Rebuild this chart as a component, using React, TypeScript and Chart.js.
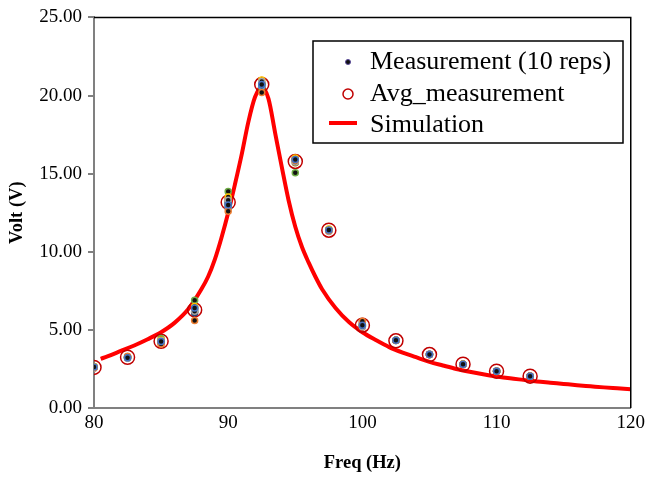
import React, { useEffect, useRef } from "react";
import { Chart, registerables } from "chart.js";

Chart.register(...registerables);

const measureFreqs = [80, 82.5, 85, 87.5, 90, 92.5, 95, 97.5, 100, 102.5, 105, 107.5, 110, 112.5];

// 10 repetitions (one array per rep, values at measureFreqs)
const rep1 = [2.62, 3.22, 4.25, 6.4, 13.0, 20.7, 15.9, 11.4, 5.3, 4.33, 3.43, 2.8, 2.35, 2.04];
const rep2 = [2.58, 3.3, 4.1, 5.6, 12.6, 20.2, 15.85, 11.35, 5.55, 4.32, 3.42, 2.8, 2.36, 2.05];
const rep3 = [2.55, 3.18, 4.3, 6.2, 13.3, 20.9, 15.75, 11.3, 5.2, 4.34, 3.44, 2.79, 2.35, 2.04];
const rep4 = [2.65, 3.26, 4.35, 6.5, 13.5, 21.0, 16.0, 11.45, 5.35, 4.33, 3.43, 2.81, 2.34, 2.03];
const rep5 = [2.6, 3.28, 4.2, 6.3, 12.8, 20.6, 15.8, 11.4, 5.25, 4.32, 3.43, 2.8, 2.35, 2.04];
const rep6 = [2.63, 3.2, 4.45, 6.9, 13.85, 20.75, 15.05, 11.35, 5.3, 4.33, 3.42, 2.8, 2.36, 2.04];
const rep7 = [2.57, 3.24, 4.22, 6.1, 13.1, 20.65, 15.9, 11.42, 5.5, 4.34, 3.44, 2.8, 2.35, 2.05];
const rep8 = [2.61, 3.25, 4.28, 6.35, 13.4, 20.8, 15.95, 11.38, 5.2, 4.33, 3.43, 2.79, 2.35, 2.04];
const rep9 = [2.66, 3.3, 4.3, 6.45, 13.2, 20.7, 15.85, 11.4, 5.35, 4.32, 3.43, 2.8, 2.34, 2.03];
const rep10 = [2.6, 3.22, 4.15, 6.2, 12.95, 20.5, 15.7, 11.36, 5.3, 4.33, 3.42, 2.8, 2.35, 2.04];
const reps = [rep1, rep2, rep3, rep4, rep5, rep6, rep7, rep8, rep9, rep10];
const repColors = ["#4472C4", "#ED7D31", "#A5A5A5", "#FFC000", "#5B9BD5", "#70AD47", "#264478", "#9E480E", "#636363", "#997300"];

const avgValues = [2.6, 3.25, 4.27, 6.28, 13.17, 20.7, 15.78, 11.38, 5.3, 4.3, 3.42, 2.8, 2.36, 2.04];

const simFreqs = [80.5, 81, 82, 83, 84, 85, 86, 87, 88, 88.5, 89, 89.5, 90, 90.5, 91, 91.5, 92, 92.5, 93, 93.5, 94, 94.5, 95, 95.5, 96, 96.5, 97, 98, 99, 100, 101, 102, 103, 104, 105, 106, 107, 108, 109, 110, 111, 112, 113, 114, 115, 116, 117, 118, 119, 120];
const simValues = [3.15, 3.3, 3.65, 4.0, 4.4, 4.85, 5.45, 6.3, 7.6, 8.4, 9.5, 10.9, 12.5, 14.3, 16.2, 18.3, 19.9, 20.55, 19.8, 17.6, 15.4, 13.3, 11.6, 10.3, 9.3, 8.4, 7.6, 6.4, 5.5, 4.85, 4.35, 3.9, 3.55, 3.25, 2.95, 2.72, 2.5, 2.32, 2.16, 2.02, 1.9, 1.8, 1.7, 1.62, 1.54, 1.46, 1.39, 1.32, 1.26, 1.2];

const legendLabels = ["Measurement (10 reps)", "Avg_measurement", "Simulation"];
const xTitle = "Freq (Hz)";
const yTitle = "Volt (V)";

const SERIF = "'Liberation Serif', 'Times New Roman', serif";

export default function App() {
  const ref = useRef<HTMLCanvasElement>(null);
  useEffect(() => {
    if (!ref.current) return;
    const measData: { x: number; y: number }[] = [];
    const measBorder: string[] = [];
    // draw the last rep first so the first (blue) rep ends on top
    for (let ri = reps.length - 1; ri >= 0; ri--) {
      reps[ri].forEach((v, i) => {
        measData.push({ x: measureFreqs[i], y: v });
        measBorder.push(repColors[ri]);
      });
    }
    const frame = {
      id: "frame",
      afterDatasetsDraw(chart: any) {
        const { ctx, chartArea: a } = chart;
        ctx.save();
        ctx.strokeStyle = "#000";
        ctx.lineWidth = 1.5;
        ctx.beginPath();
        ctx.moveTo(a.left, a.top);
        ctx.lineTo(a.right, a.top);
        ctx.lineTo(a.right, a.bottom);
        ctx.stroke();
        // legend
        const bx = 313, by = 41, bw = 310, bh = 102;
        ctx.fillStyle = "#fff";
        ctx.fillRect(bx, by, bw, bh);
        ctx.lineWidth = 1.5;
        ctx.strokeRect(bx, by, bw, bh);
        ctx.font = `26px ${SERIF}`;
        ctx.fillStyle = "#000";
        ctx.textBaseline = "middle";
        ctx.textAlign = "left";
        const rows = [62, 94, 125];
        ctx.fillText(legendLabels[0], 370, rows[0]);
        ctx.fillText(legendLabels[1], 370, rows[1]);
        ctx.fillText(legendLabels[2], 370, rows[2]);
        ctx.beginPath();
        ctx.arc(348, rows[0], 2.5, 0, Math.PI * 2);
        ctx.fillStyle = "#111";
        ctx.fill();
        ctx.strokeStyle = "#5a4a9a";
        ctx.lineWidth = 1;
        ctx.stroke();
        ctx.beginPath();
        ctx.arc(348, rows[1], 5, 0, Math.PI * 2);
        ctx.strokeStyle = "#C00000";
        ctx.lineWidth = 1.5;
        ctx.stroke();
        ctx.beginPath();
        ctx.moveTo(329, rows[2] - 2);
        ctx.lineTo(357, rows[2] - 2);
        ctx.strokeStyle = "#FF0000";
        ctx.lineWidth = 4;
        ctx.stroke();
        ctx.restore();
      },
    };
    const chart = new Chart(ref.current, {
      type: "scatter",
      data: {
        datasets: [
          {
            label: legendLabels[0],
            data: measData,
            pointRadius: 3,
            pointBackgroundColor: "#111",
            pointBorderColor: measBorder,
            pointBorderWidth: 1.5,
            showLine: false,
            order: 0,
          },
          {
            label: legendLabels[1],
            data: measureFreqs.map((f, i) => ({ x: f, y: avgValues[i] })),
            pointRadius: 7,
            pointBackgroundColor: "rgba(0,0,0,0)",
            pointBorderColor: "#C00000",
            pointBorderWidth: 1.5,
            showLine: false,
            order: 1,
          },
          {
            label: legendLabels[2],
            data: simFreqs.map((f, i) => ({ x: f, y: simValues[i] })),
            showLine: true,
            borderColor: "#FF0000",
            borderWidth: 4,
            pointRadius: 0,
            tension: 0.4,
            cubicInterpolationMode: "monotone",
            order: 2,
          } as any,
        ],
      },
      options: {
        animation: false,
        responsive: true,
        maintainAspectRatio: false,
        layout: { padding: { left: 0, right: 16, top: 15, bottom: 0 } },
        plugins: { legend: { display: false }, tooltip: { enabled: false } },
        scales: {
          x: {
            type: "linear",
            min: 80,
            max: 120,
            ticks: { stepSize: 10, color: "#000", font: { family: SERIF, size: 19 }, padding: 4, maxRotation: 0 },
            grid: { drawOnChartArea: false, drawTicks: false },
            border: { display: true, color: "#808080", width: 2 },
            title: { display: true, text: xTitle, color: "#000", font: { family: SERIF, size: 18.5, weight: "bold" }, padding: { top: 4, bottom: 3 } },
            afterFit: (s: any) => { s.height = 69; },
          },
          y: {
            min: 0,
            max: 25,
            ticks: { stepSize: 5, color: "#000", font: { family: SERIF, size: 19 }, padding: 6, callback: (v: any) => Number(v).toFixed(2) },
            grid: { drawOnChartArea: false, drawTicks: true, tickLength: 6, color: "#808080", lineWidth: 2 },
            border: { display: true, color: "#808080", width: 2 },
            title: { display: true, text: yTitle, color: "#000", font: { family: SERIF, size: 18.5, weight: "bold" }, padding: { top: 6, bottom: 0 } },
            afterFit: (s: any) => { s.width = 94; },
          },
        },
      } as any,
      plugins: [frame],
    });
    return () => chart.destroy();
  }, []);
  return (
    <div style={{ position: "fixed", left: 0, top: 0, width: 649, height: 477, background: "#fff" }}>
      <canvas ref={ref} />
    </div>
  );
}
